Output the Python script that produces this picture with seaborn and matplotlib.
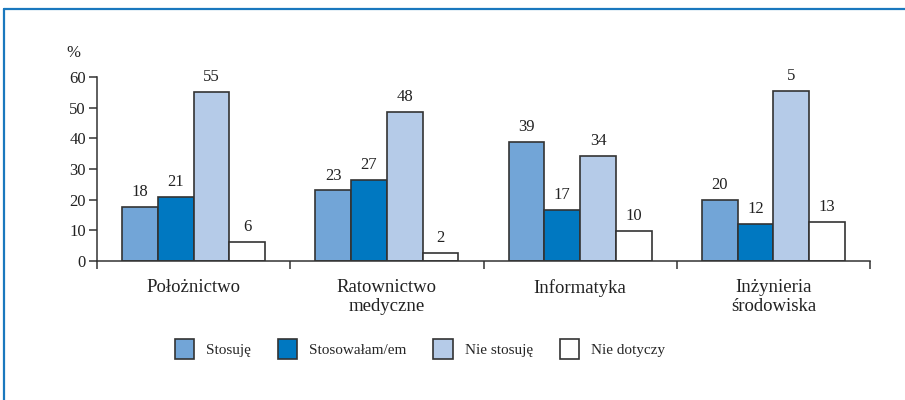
import matplotlib
matplotlib.use("Agg")
import matplotlib.pyplot as plt
from matplotlib.lines import Line2D
import seaborn as sns
import pandas as pd

categories = ["Położnictwo", "Ratownictwo\nmedyczne", "Informatyka", "Inżynieria\nśrodowiska"]
series = ["Stosuję", "Stosowałam/em", "Nie stosuję", "Nie dotyczy"]
stosuje = [17.5, 23.0, 38.8, 20.0]
stosowalam = [21.0, 26.5, 16.5, 12.0]
nie_stosuje = [55.0, 48.5, 34.2, 55.5]
nie_dotyczy = [6.3, 2.5, 9.7, 12.7]
labels_stosuje = ["18", "23", "39", "20"]
labels_stosowalam = ["21", "27", "17", "12"]
labels_nie_stosuje = ["55", "48", "34", "5"]
labels_nie_dotyczy = ["6", "2", "10", "13"]
yticks = [0, 10, 20, 30, 40, 50, 60]
colors = ["#72A5D7", "#0078C1", "#B5CBE8", "#FFFFFF"]

values = [stosuje, stosowalam, nie_stosuje, nie_dotyczy]
labels = [labels_stosuje, labels_stosowalam, labels_nie_stosuje, labels_nie_dotyczy]
rows = []
for s, vals in zip(series, values):
    for c, v in zip(categories, vals):
        rows.append({"cat": c, "series": s, "val": v})
df = pd.DataFrame(rows)

sns.set_style("ticks")
plt.rcParams["font.family"] = ["Liberation Serif", "DejaVu Serif"]
plt.rcParams["font.size"] = 11.5

fig = plt.figure(figsize=(9.05, 4.0), dpi=100)
ax = fig.add_axes([97/905, 1-261/400, (870-97)/905, (261-77)/400])

sns.barplot(data=df, x="cat", y="val", hue="series", hue_order=series, order=categories,
            palette=colors, width=0.74, edgecolor="#333333", linewidth=1.2,
            saturation=1, ax=ax, legend=True, err_kws={"linewidth": 0})

for cont, lab in zip(ax.containers, labels):
    ax.bar_label(cont, labels=lab, padding=5, fontsize=12, color="#222222")

ax.set_xlim(-0.5, 3.5)
ax.set_ylim(0, 60)
ax.set_yticks(yticks)
ax.set_xlabel("")
ax.set_ylabel("")
ax.set_xticks(range(len(categories)))
ax.set_xticklabels(categories, linespacing=1.12, fontsize=13.5)
ax.set_xticks([-0.5, 0.5, 1.5, 2.5, 3.5], minor=True)
ax.tick_params(axis="x", which="major", length=0, pad=13, colors="#222222")
ax.tick_params(axis="x", which="minor", length=6, width=1.1, direction="out", color="#333333")
ax.tick_params(axis="y", length=6, width=1.1, pad=2, color="#333333", labelcolor="#222222", labelsize=12)
for sp in ["top", "right"]:
    ax.spines[sp].set_visible(False)
for sp in ["left", "bottom"]:
    ax.spines[sp].set_color("#333333")
    ax.spines[sp].set_linewidth(1.1)

leg = ax.get_legend()
handles = leg.legend_handles
leg.remove()
fig.legend(handles, series, loc="center", bbox_to_anchor=(420/905, 1-349/400), ncol=4,
           frameon=False, handlelength=1.25, handleheight=1.55, handletextpad=0.8,
           columnspacing=1.75, fontsize=11)

fig.text(73/905, 1-53/400, "%", ha="center", va="center", fontsize=12, color="#222222")

fig.add_artist(Line2D([4/905, 1], [1-9/400, 1-9/400], transform=fig.transFigure, color="#1A78BE", linewidth=1.6))
fig.add_artist(Line2D([4/905, 4/905], [0, 1-9/400], transform=fig.transFigure, color="#1A78BE", linewidth=1.6))

fig.savefig("out.png", dpi=100)
